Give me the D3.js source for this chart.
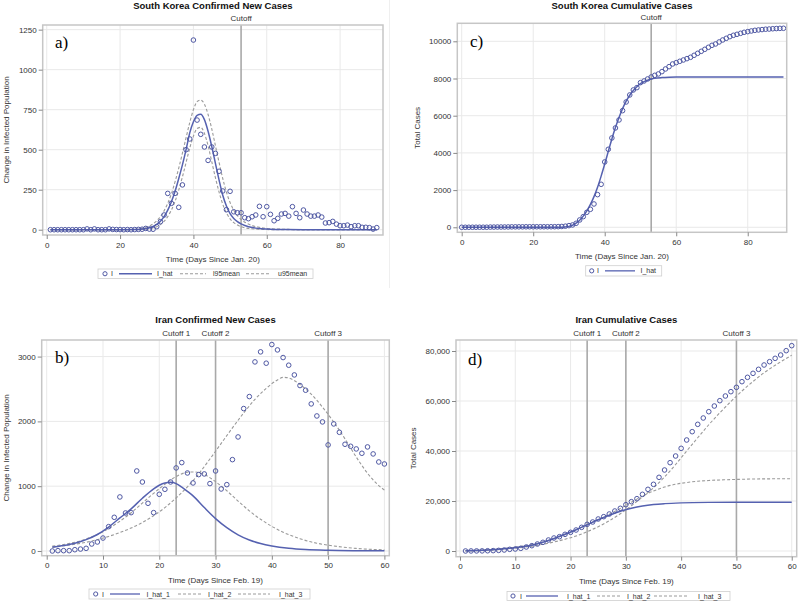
<!DOCTYPE html>
<html>
<head>
<meta charset="utf-8">
<script src="https://cdn.jsdelivr.net/npm/d3@7"></script>
<style>
  html, body { margin: 0; padding: 0; background: #fff; }
  svg { display: block; font-family: "Liberation Sans", Arial, sans-serif; }
</style>
</head>
<body>
<svg id="chart" width="798" height="602"></svg>
<script>
// ---- South Korea: daily new cases, days 1..90 (since Jan. 20)
const koreaNew = [
  0, 0, 0, 0, 0, 0, 0, 0, 0, 0,
  5, 0, 5, 0, 0, 0, 5, 2, 1, 1,
  0, 1, 0, 1, 2, 3, 8, 4, 3, 19,
  50, 92, 227, 165, 227, 140, 280, 500, 567, 1185,
  685, 596, 517, 433, 517, 477, 365, 242, 125, 240,
  112, 106, 106, 75, 69, 81, 92, 146, 81, 144,
  96, 56, 71, 98, 102, 85, 144, 102, 75, 123,
  98, 85, 85, 92, 79, 42, 44, 52, 35, 25,
  25, 29, 19, 25, 25, 15, 15, 13, 4, 13
];
// fitted curve and 95% band (day, value)
const koreaNewHat = [[1,0],[20,0],[24,1],[25,2],[26,4],[27,7],[28,12],[29,20],[30,33],[31,53],[32,82],[33,122],[34,175],[35,240],[36,320],[37,405],[38,500],[39,605],[40,675],[41,715],[42,722],[43,688],[44,615],[45,520],[46,415],[47,310],[48,215],[49,148],[50,100],[51,70],[52,50],[53,36],[54,26],[55,19],[56,14],[57,10],[58,7],[60,4],[62,2],[65,1],[70,0],[90,0]];
const koreaNewUpper = [[1,0],[22,0],[23,1],[24,3],[25,5],[26,9],[27,15],[28,24],[29,37],[30,56],[31,82],[32,118],[33,165],[34,225],[35,300],[36,385],[37,478],[38,575],[39,670],[40,750],[41,800],[42,810],[43,785],[44,720],[45,630],[46,525],[47,420],[48,320],[49,235],[50,170],[51,122],[52,88],[53,64],[54,47],[55,35],[56,26],[58,15],[60,8],[63,4],[66,2],[70,0],[90,0]];
const koreaNewLower = [[1,0],[25,0],[26,1],[27,3],[28,6],[29,11],[30,19],[31,32],[32,52],[33,82],[34,123],[35,178],[36,248],[37,330],[38,420],[39,510],[40,585],[41,632],[42,640],[43,602],[44,525],[45,425],[46,325],[47,235],[48,160],[49,105],[50,68],[51,44],[52,29],[53,19],[54,12],[55,8],[57,4],[60,1],[63,0],[90,0]];

// ---- South Korea: cumulative cases, days 0..90
const koreaCum = [
  1, 1, 2, 3, 4, 4, 4, 4, 11, 12,
  15, 15, 16, 19, 23, 24, 24, 25, 27, 28,
  28, 28, 28, 28, 29, 30, 31, 35, 45, 60,
  90, 125, 215, 394, 573, 806, 968, 1254, 1756, 2312,
  3513, 4194, 4803, 5341, 5771, 6272, 6738, 7115, 7384, 7509,
  7778, 7867, 7975, 8082, 8172, 8244, 8369, 8513, 8638, 8781,
  8853, 8925, 8996, 9068, 9140, 9248, 9355, 9462, 9570, 9677,
  9785, 9857, 9964, 10072, 10161, 10251, 10323, 10376, 10430, 10484,
  10520, 10555, 10590, 10610, 10630, 10650, 10660, 10675, 10685, 10695,
  10700
];
const koreaCumHat = [[0,0],[28,0],[29,20],[30,50],[31,110],[32,220],[33,380],[34,600],[35,880],[36,1230],[37,1650],[38,2150],[39,2750],[40,3400],[41,4080],[42,4750],[43,5360],[44,5900],[45,6380],[46,6780],[47,7100],[48,7360],[49,7560],[50,7720],[51,7830],[52,7910],[53,7970],[54,8010],[56,8050],[58,8070],[60,8080],[90,8080]];

// ---- Iran: daily new cases, days 1..60 (since Feb. 19)
const iranNew = [
  0, 5, 5, 5, 20, 30, 41, 108, 139, 200,
  376, 520, 834, 587, 592, 1235, 1065, 736, 592, 875,
  952, 1065, 1282, 1364, 1204, 1050, 1179, 1189, 1040, 1235,
  957, 1024, 1410, 1760, 2198, 2383, 2918, 3073, 2898, 3186,
  3103, 2985, 2867, 2717, 2553, 2481, 2270, 2084, 1992, 1637,
  1961, 1832, 1647, 1616, 1575, 1508, 1606, 1498, 1374, 1343
];
const iranNewHat1 = [[1,60],[3,85],[5,120],[7,175],[9,255],[11,370],[13,510],[15,650],[17,815],[19,960],[20,1015],[21,1050],[22,1060],[23,1040],[24,985],[25,920],[26,850],[28,670],[30,500],[32,360],[34,250],[36,170],[38,115],[40,78],[43,42],[46,22],[50,10],[55,4],[60,2]];
const iranNewHat2 = [[1,75],[3,100],[5,135],[7,185],[9,255],[11,345],[13,460],[15,590],[17,740],[19,890],[21,1030],[23,1150],[25,1215],[26,1220],[27,1210],[28,1180],[30,1070],[32,930],[34,770],[36,620],[38,490],[40,380],[42,290],[45,190],[48,120],[50,90],[55,40],[60,18]];
const iranNewHat3 = [[1,55],[3,80],[5,105],[7,135],[9,175],[11,225],[13,285],[15,355],[17,440],[19,545],[21,670],[23,820],[25,990],[27,1190],[29,1420],[31,1660],[33,1900],[35,2130],[37,2340],[39,2510],[41,2640],[42,2680],[43,2670],[45,2570],[47,2420],[49,2220],[51,1990],[53,1730],[55,1450],[57,1200],[59,1010],[60,940]];

// ---- Iran: cumulative cases, days 1..60
const iranCum = [
  5, 20, 30, 50, 100, 150, 250, 400, 670, 800,
  1070, 1600, 2130, 2800, 3470, 4400, 5200, 5730, 6670, 7470,
  8400, 9470, 10670, 11600, 12800, 13730, 14800, 16000, 17070, 18530,
  19730, 20930, 22670, 24670, 26670, 29470, 32400, 35330, 38000, 41070,
  44400, 47730, 50670, 53200, 55730, 58000, 60130, 62000, 63730, 65470,
  67730, 69470, 71070, 72670, 74400, 75730, 77070, 78400, 80130, 82130
];
const iranCumHat1 = [[1,60],[3,200],[5,400],[7,700],[9,1100],[11,1600],[13,2300],[15,3500],[17,5000],[19,6700],[21,8500],[23,10500],[25,12500],[27,14300],[29,15900],[31,17100],[33,18000],[35,18600],[37,18950],[40,19250],[45,19450],[50,19500],[60,19500]];
const iranCumHat2 = [[1,80],[3,250],[5,480],[7,800],[9,1250],[11,1850],[13,2600],[15,3600],[17,4900],[19,6500],[21,8500],[23,10600],[25,12500],[27,14700],[29,17000],[31,19500],[33,22000],[35,24000],[37,25600],[39,26700],[41,27400],[43,27900],[45,28200],[48,28500],[51,28700],[55,28850],[60,28900]];
const iranCumHat3 = [[1,30],[3,120],[5,300],[7,550],[9,900],[11,1350],[13,1950],[15,2700],[17,3600],[19,4700],[21,6000],[23,7700],[25,9700],[27,12100],[29,14900],[31,18100],[33,21600],[35,25300],[37,29600],[39,34600],[41,40000],[43,45300],[45,50500],[47,55300],[49,59800],[51,64000],[53,67800],[55,71300],[57,74300],[59,77000],[60,78300]];

// tick values
const koreaNewTicks = [0, 250, 500, 750, 1000, 1250];
const koreaCumTicks = [0, 2000, 4000, 6000, 8000, 10000];
const iranNewTicks = [0, 1000, 2000, 3000];
const iranCumTicks = [0, 20000, 40000, 60000, 80000];
const koreaDayTicks = [0, 20, 40, 60, 80];
const iranDayTicks = [0, 10, 20, 30, 40, 50, 60];

// cutoff lines
const koreaCutoffs = [{ day: 53, label: "Cutoff" }];
const iranCutoffs = [
  { day: 23, label: "Cutoff 1" },
  { day: 30, label: "Cutoff 2" },
  { day: 50, label: "Cutoff 3" }
];

// styles
const MARK = "#4f58a3";
const FIT = "#5561b0";
const DASH = "#9a9a9a";
const GRID = "#e9e9e9";
const FRAME = "#c6c6c6";
const CUT = "#a9a9a9";
const TXT = "#333";

const svg = d3.select("#chart");

// vertical separator between the upper panels
svg.append("line")
  .attr("x1", 389.5).attr("x2", 389.5).attr("y1", 0).attr("y2", 288)
  .attr("stroke", "#efefef").attr("stroke-width", 1);

function drawPanel(p) {
  const x = d3.scaleLinear().domain(p.xDomain).range([p.left, p.right]);
  const y = d3.scaleLinear().domain(p.yDomain).range([p.bottom, p.top]);
  const g = svg.append("g");

  // grid
  g.selectAll(".gx").data(p.xTicks).enter().append("line")
    .attr("x1", d => x(d)).attr("x2", d => x(d))
    .attr("y1", p.top).attr("y2", p.bottom)
    .attr("stroke", GRID).attr("stroke-width", 1);
  g.selectAll(".gy").data(p.yTicks).enter().append("line")
    .attr("x1", p.left).attr("x2", p.right)
    .attr("y1", d => y(d)).attr("y2", d => y(d))
    .attr("stroke", GRID).attr("stroke-width", 1);

  // cutoff lines + labels
  p.cutoffs.forEach(c => {
    g.append("line")
      .attr("x1", x(c.day)).attr("x2", x(c.day))
      .attr("y1", p.top).attr("y2", p.bottom)
      .attr("stroke", CUT).attr("stroke-width", 1.6);
    g.append("text")
      .attr("x", x(c.day)).attr("y", p.cutoffY)
      .attr("text-anchor", "middle")
      .style("font-size", "8px").attr("fill", TXT)
      .text(c.label);
  });

  // curves
  const line = d3.line()
    .x(d => x(d[0])).y(d => y(d[1]))
    .curve(d3.curveMonotoneX);
  p.curves.forEach(c => {
    g.append("path")
      .datum(c.data)
      .attr("d", line)
      .attr("fill", "none")
      .attr("stroke", c.dashed ? DASH : FIT)
      .attr("stroke-width", c.dashed ? 1.1 : 1.5)
      .attr("stroke-dasharray", c.dashed ? "3,2" : null);
  });

  // observed points
  g.selectAll(".pt").data(p.points).enter().append("circle")
    .attr("cx", (d, i) => x(i + p.firstDay))
    .attr("cy", d => y(d))
    .attr("r", 2.3)
    .attr("fill", "none")
    .attr("stroke", MARK)
    .attr("stroke-width", 1);

  // frame
  g.append("rect")
    .attr("x", p.left).attr("y", p.top)
    .attr("width", p.right - p.left).attr("height", p.bottom - p.top)
    .attr("fill", "none").attr("stroke", FRAME).attr("stroke-width", 1.5);

  // x axis
  const xa = g.append("g")
    .attr("transform", `translate(0,${p.bottom})`)
    .call(d3.axisBottom(x).tickValues(p.xTicks).tickSize(4).tickPadding(3));
  xa.select(".domain").remove();
  xa.selectAll("line").attr("stroke", "#888");
  xa.selectAll("text").style("font-size", "8px").attr("fill", TXT)
    .style("font-family", "Liberation Sans, Arial, sans-serif");

  // y axis
  const ya = g.append("g")
    .attr("transform", `translate(${p.left},0)`)
    .call(d3.axisLeft(y).tickValues(p.yTicks).tickSize(4).tickPadding(2).tickFormat(p.yFormat));
  ya.select(".domain").remove();
  ya.selectAll("line").attr("stroke", "#888");
  ya.selectAll("text").style("font-size", "8px").attr("fill", TXT)
    .style("font-family", "Liberation Sans, Arial, sans-serif");

  // title
  g.append("text")
    .attr("x", (p.left + p.right) / 2).attr("y", p.titleY)
    .attr("text-anchor", "middle")
    .style("font-size", "9.5px").style("font-weight", "bold").attr("fill", "#111")
    .text(p.title);

  // axis labels
  g.append("text")
    .attr("x", (p.left + p.right) / 2).attr("y", p.xLabelY)
    .attr("text-anchor", "middle")
    .style("font-size", "8px").attr("fill", TXT)
    .text(p.xLabel);
  g.append("text")
    .attr("transform", `translate(${p.yLabelX},${(p.top + p.bottom) / 2}) rotate(-90)`)
    .attr("text-anchor", "middle")
    .style("font-size", "8px").attr("fill", TXT)
    .text(p.yLabel);

  // panel tag a) b) ...
  g.append("text")
    .attr("x", p.tag.x).attr("y", p.tag.y)
    .style("font-family", "Liberation Serif, Times New Roman, serif")
    .style("font-size", "17px").attr("fill", "#000")
    .text(p.tag.text);

  // legend
  const lg = p.legend;
  g.append("rect")
    .attr("x", lg.x0).attr("y", lg.y0)
    .attr("width", lg.x1 - lg.x0).attr("height", lg.y1 - lg.y0)
    .attr("fill", "#fff").attr("stroke", "#cfcfcf").attr("stroke-width", 0.8);
  const ly = (lg.y0 + lg.y1) / 2;
  lg.items.forEach(it => {
    if (it.type === "circle") {
      g.append("circle")
        .attr("cx", it.sx).attr("cy", ly).attr("r", 2.1)
        .attr("fill", "none").attr("stroke", MARK).attr("stroke-width", 1);
    } else {
      g.append("line")
        .attr("x1", it.sx).attr("x2", it.ex).attr("y1", ly).attr("y2", ly)
        .attr("stroke", it.type === "dash" ? DASH : FIT)
        .attr("stroke-width", it.type === "dash" ? 1 : 1.3)
        .attr("stroke-dasharray", it.type === "dash" ? "3,2" : null);
    }
    g.append("text")
      .attr("x", it.tx).attr("y", ly + 2.5)
      .style("font-size", "7px").attr("fill", TXT)
      .text(it.label);
  });
}

// a) South Korea new cases
drawPanel({
  left: 42.7, right: 383, top: 25, bottom: 235,
  xDomain: [-1.1, 91.7], yDomain: [-33, 1279],
  xTicks: koreaDayTicks, yTicks: koreaNewTicks, yFormat: d3.format("d"),
  points: koreaNew, firstDay: 1,
  curves: [
    { data: koreaNewUpper, dashed: true },
    { data: koreaNewLower, dashed: true },
    { data: koreaNewHat, dashed: false }
  ],
  cutoffs: koreaCutoffs, cutoffY: 21,
  title: "South Korea Confirmed New Cases", titleY: 9,
  xLabel: "Time (Days Since Jan. 20)", xLabelY: 262,
  yLabel: "Change in Infected Population", yLabelX: 9,
  tag: { text: "a)", x: 55, y: 48 },
  legend: {
    x0: 98, x1: 313, y0: 269, y1: 278.5,
    items: [
      { type: "circle", sx: 105, tx: 111, label: "I" },
      { type: "solid", sx: 119, ex: 152, tx: 157, label: "I_hat" },
      { type: "dash", sx: 180, ex: 206, tx: 213, label: "l95mean" },
      { type: "dash", sx: 246, ex: 271, tx: 278, label: "u95mean" }
    ]
  }
});

// c) South Korea cumulative
drawPanel({
  left: 457.3, right: 786.7, top: 23.3, bottom: 232.3,
  xDomain: [-1.23, 90.9], yDomain: [-269, 10968],
  xTicks: koreaDayTicks, yTicks: koreaCumTicks, yFormat: d3.format("d"),
  points: koreaCum, firstDay: 0,
  curves: [{ data: koreaCumHat, dashed: false }],
  cutoffs: koreaCutoffs, cutoffY: 20,
  title: "South Korea Cumulative Cases", titleY: 9,
  xLabel: "Time (Days Since Jan. 20)", xLabelY: 259,
  yLabel: "Total Cases", yLabelX: 420,
  tag: { text: "c)", x: 470, y: 47 },
  legend: {
    x0: 585.7, x1: 661.7, y0: 265.7, y1: 276,
    items: [
      { type: "circle", sx: 591.7, tx: 597, label: "I" },
      { type: "solid", sx: 605, ex: 635, tx: 640.5, label: "I_hat" }
    ]
  }
});

// b) Iran new cases
drawPanel({
  left: 41.7, right: 389.3, top: 340, bottom: 555.7,
  xDomain: [-0.89, 60.87], yDomain: [-72.5, 3256],
  xTicks: iranDayTicks, yTicks: iranNewTicks, yFormat: d3.format("d"),
  points: iranNew, firstDay: 1,
  curves: [
    { data: iranNewHat2, dashed: true },
    { data: iranNewHat3, dashed: true },
    { data: iranNewHat1, dashed: false }
  ],
  cutoffs: iranCutoffs, cutoffY: 336,
  title: "Iran Confirmed New Cases", titleY: 323,
  xLabel: "Time (Days Since Feb. 19)", xLabelY: 583,
  yLabel: "Change in Infected Population", yLabelX: 8.5,
  tag: { text: "b)", x: 55, y: 363 },
  legend: {
    x0: 89, x1: 310, y0: 589, y1: 599,
    items: [
      { type: "circle", sx: 95.7, tx: 102, label: "I" },
      { type: "solid", sx: 110, ex: 140, tx: 146.5, label: "I_hat_1" },
      { type: "dash", sx: 178, ex: 202, tx: 208, label: "I_hat_2" },
      { type: "dash", sx: 238, ex: 270, tx: 279, label: "I_hat_3" }
    ]
  }
});

// d) Iran cumulative
drawPanel({
  left: 456, right: 796.7, top: 340, bottom: 556.7,
  xDomain: [-0.72, 60.9], yDomain: [-2280, 84400],
  xTicks: iranDayTicks, yTicks: iranCumTicks, yFormat: d3.format(","),
  points: iranCum, firstDay: 1,
  curves: [
    { data: iranCumHat2, dashed: true },
    { data: iranCumHat3, dashed: true },
    { data: iranCumHat1, dashed: false }
  ],
  cutoffs: iranCutoffs, cutoffY: 336,
  title: "Iran Cumulative Cases", titleY: 323,
  xLabel: "Time (Days Since Feb. 19)", xLabelY: 584,
  yLabel: "Total Cases", yLabelX: 416,
  tag: { text: "d)", x: 468, y: 365 },
  legend: {
    x0: 507, x1: 730, y0: 591.5, y1: 600.5,
    items: [
      { type: "circle", sx: 513, tx: 520, label: "I" },
      { type: "solid", sx: 526, ex: 558, tx: 567, label: "I_hat_1" },
      { type: "dash", sx: 597, ex: 622, tx: 627, label: "I_hat_2" },
      { type: "dash", sx: 654, ex: 687, tx: 698, label: "I_hat_3" }
    ]
  }
});
</script>
</body>
</html>
